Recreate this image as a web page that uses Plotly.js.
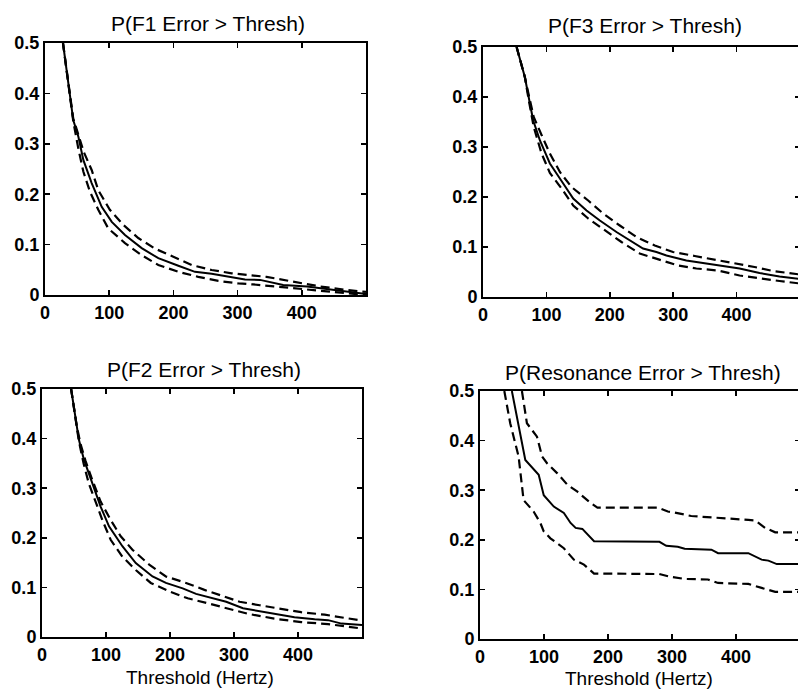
<!DOCTYPE html>
<html>
<head>
<meta charset="utf-8">
<script src="https://cdn.plot.ly/plotly-3.0.1.min.js"></script>
<style>
html,body{margin:0;padding:0;overflow:hidden;background:#fff;width:798px;height:689px;}
#chart{width:810px;height:689px;}
</style>
</head>
<body>
<div id="chart"></div>
<script>
// ---- Data (Threshold in Hertz, probability) ----
const xTickVals = [0, 100, 200, 300, 400];
const xTickText = ["0", "100", "200", "300", "400"];
const yTickVals = [0, 0.1, 0.2, 0.3, 0.4, 0.5];
const yTickText = ["0", "0.1", "0.2", "0.3", "0.4", "0.5"];
const panelTitles = ["P(F1 Error > Thresh)", "P(F3 Error > Thresh)", "P(F2 Error > Thresh)", "P(Resonance Error > Thresh)"];
const xAxisTitle = "Threshold (Hertz)";

// F1
const f1X  = [28, 36, 44, 52, 59.7, 72.7, 88.3, 104, 124.6, 150.6, 176.5, 207.7, 233.6, 259.6, 285.5, 311.5, 335, 371, 408, 449, 475, 500];
const f1Y  = [0.5, 0.42, 0.347, 0.314, 0.268, 0.222, 0.175, 0.145, 0.119, 0.093, 0.073, 0.058, 0.046, 0.042, 0.036, 0.031, 0.030, 0.020, 0.017, 0.010, 0.007, 0.002];
const f1UpX = [28, 36, 44, 52, 60, 72.7, 83, 101, 122, 145.3, 171.3, 199.9, 228.5, 259.6, 290.8, 345, 387, 428, 470, 500];
const f1UpY = [0.5, 0.42, 0.35, 0.318, 0.285, 0.248, 0.208, 0.169, 0.139, 0.113, 0.092, 0.076, 0.0595, 0.0496, 0.043, 0.036, 0.026, 0.017, 0.010, 0.006];
const f1LoX = [28, 36, 44, 52, 59.7, 70, 83, 98.6, 124.6, 150.6, 176.5, 207.7, 238.8, 270, 301, 324, 366, 408, 449, 490, 500];
const f1LoY = [0.5, 0.42, 0.345, 0.29, 0.245, 0.205, 0.169, 0.132, 0.103, 0.079, 0.0595, 0.046, 0.036, 0.028, 0.023, 0.021, 0.016, 0.012, 0.006, 0.001, 0.0];

// F3
const f3X  = [53, 60, 66, 72, 79.2, 89.8, 105.5, 126.5, 142.3, 163.3, 184.3, 210.5, 226.3, 252.4, 273.5, 289.3, 320.7, 362.7, 404.7, 436.2, 467.7, 500];
const f3Y  = [0.5, 0.47, 0.44, 0.40, 0.353, 0.313, 0.267, 0.227, 0.197, 0.173, 0.153, 0.130, 0.117, 0.097, 0.090, 0.083, 0.073, 0.065, 0.057, 0.048, 0.041, 0.036];
const f3UpX = [53, 60, 66, 72, 80, 92, 105.5, 121.3, 139.6, 165.9, 189.5, 215.7, 242, 270.9, 299.7, 333.9, 365.4, 396.9, 428.3, 457.2, 488.7, 500];
const f3UpY = [0.5, 0.47, 0.44, 0.405, 0.36, 0.325, 0.287, 0.25, 0.22, 0.193, 0.167, 0.143, 0.12, 0.103, 0.090, 0.082, 0.075, 0.068, 0.060, 0.052, 0.047, 0.045];
const f3LoX = [53, 60, 66, 72, 80, 92.4, 105.5, 123.9, 142.3, 165.9, 192.1, 218.4, 247.2, 276.1, 307.6, 336.5, 370.6, 404.7, 436.2, 467.7, 500];
const f3LoY = [0.5, 0.47, 0.44, 0.395, 0.34, 0.287, 0.248, 0.217, 0.183, 0.157, 0.133, 0.110, 0.087, 0.075, 0.063, 0.057, 0.053, 0.043, 0.037, 0.032, 0.027];

// F2
const f2X  = [45.5, 50, 54.4, 57.6, 65.4, 78.5, 91.6, 104.7, 125.6, 146.5, 172.7, 193.6, 219.8, 240.7, 266.9, 287.8, 314, 332, 363, 394.5, 426, 447, 468, 500];
const f2Y  = [0.5, 0.46, 0.425, 0.398, 0.358, 0.311, 0.263, 0.223, 0.183, 0.149, 0.122, 0.109, 0.098, 0.087, 0.078, 0.071, 0.058, 0.054, 0.046, 0.040, 0.036, 0.034, 0.027, 0.024];
const f2UpX = [45.5, 50, 54.4, 60, 68, 78.5, 91.6, 107.3, 123, 141.3, 167.5, 193.6, 225, 253.8, 282.6, 308.8, 340, 370, 405, 441.6, 478, 500];
const f2UpY = [0.5, 0.46, 0.425, 0.39, 0.355, 0.317, 0.273, 0.236, 0.203, 0.176, 0.146, 0.122, 0.109, 0.095, 0.083, 0.071, 0.064, 0.057, 0.050, 0.045, 0.037, 0.033];
const f2LoX = [45.5, 50, 54.4, 57.6, 65, 73, 83.7, 94.2, 107.3, 125.6, 146.5, 170, 198.9, 227.6, 259, 290.4, 321, 363, 405, 447, 500];
const f2LoY = [0.5, 0.46, 0.425, 0.395, 0.35, 0.31, 0.273, 0.236, 0.196, 0.162, 0.135, 0.109, 0.092, 0.078, 0.068, 0.058, 0.047, 0.037, 0.030, 0.026, 0.017];

// Resonance
const resX  = [49.8, 70.8, 91.7, 99.6, 115.3, 131, 141.5, 149.4, 159.9, 178.2, 280.4, 291, 309, 319.8, 361.6, 372, 419.3, 440, 450.6, 463.7, 500];
const resY  = [0.5, 0.361, 0.331, 0.29, 0.267, 0.254, 0.234, 0.224, 0.222, 0.197, 0.196, 0.188, 0.186, 0.182, 0.180, 0.173, 0.173, 0.160, 0.158, 0.151, 0.151];
const resUpX = [65.5, 73.3, 89, 97, 105, 120.8, 136.5, 152.2, 173, 183.5, 277.8, 293.5, 304, 319.8, 330, 419.3, 429.8, 445.5, 461.3, 500];
const resUpY = [0.5, 0.435, 0.408, 0.368, 0.354, 0.334, 0.311, 0.297, 0.274, 0.265, 0.265, 0.257, 0.255, 0.250, 0.248, 0.240, 0.239, 0.224, 0.215, 0.215];
const resLoX = [38, 47.2, 60.3, 68.1, 83.8, 94.3, 99.6, 110, 131, 146.7, 162.4, 178.2, 280, 295, 320, 356, 372, 419.3, 440, 461.3, 500];
const resLoY = [0.5, 0.435, 0.368, 0.28, 0.257, 0.234, 0.217, 0.203, 0.183, 0.160, 0.150, 0.132, 0.131, 0.126, 0.121, 0.120, 0.113, 0.111, 0.103, 0.095, 0.095];

// ---- Build ----
const W = 810, H = 689;
const FONT = "Liberation Sans, Arial, Helvetica, sans-serif";

function lineTrace(xa, ya, xs, ys, dashed) {
  return {
    type: "scatter", mode: "lines", x: xs, y: ys, xaxis: xa, yaxis: ya,
    line: {color: "#000", width: dashed ? 2.2 : 2, dash: dashed ? "9px,5px" : "solid"},
    hoverinfo: "skip", showlegend: false
  };
}

const panels = [
  {xa: "x",  ya: "y",  s: [f1X, f1Y], u: [f1UpX, f1UpY], l: [f1LoX, f1LoY]},
  {xa: "x2", ya: "y2", s: [f3X, f3Y], u: [f3UpX, f3UpY], l: [f3LoX, f3LoY]},
  {xa: "x3", ya: "y3", s: [f2X, f2Y], u: [f2UpX, f2UpY], l: [f2LoX, f2LoY]},
  {xa: "x4", ya: "y4", s: [resX, resY], u: [resUpX, resUpY], l: [resLoX, resLoY]}
];

const data = [];
panels.forEach(p => {
  data.push(lineTrace(p.xa, p.ya, p.u[0], p.u[1], true));
  data.push(lineTrace(p.xa, p.ya, p.l[0], p.l[1], true));
  data.push(lineTrace(p.xa, p.ya, p.s[0], p.s[1], false));
});

// plot-area boxes in pixels: [left, right, top, bottom]
const boxes = [[45, 366, 43, 295], [483, 800, 47, 297], [42, 362, 389, 637], [480, 800, 391, 639]];

const tickFont = {family: FONT, size: 18, color: "#000", weight: "bold"};
function xAxisDef(b, anchor) {
  return {
    domain: [b[0] / W, b[1] / W], anchor: anchor, range: [0, 500],
    tickvals: xTickVals, ticktext: xTickText,
    ticks: "inside", ticklen: 5, tickwidth: 1.5, tickcolor: "#000",
    showline: true, linewidth: 2, linecolor: "#000", mirror: "ticks",
    showgrid: false, zeroline: false, fixedrange: true,
    tickfont: tickFont
  };
}
function yAxisDef(b, anchor) {
  return {
    domain: [1 - b[3] / H, 1 - b[2] / H], anchor: anchor, range: [0, 0.5],
    tickvals: yTickVals, ticktext: yTickText,
    ticks: "inside", ticklen: 5, tickwidth: 1.5, tickcolor: "#000",
    showline: true, linewidth: 2, linecolor: "#000", mirror: "ticks",
    showgrid: false, zeroline: false, fixedrange: true,
    tickfont: tickFont
  };
}

const titlePos = [[208, 24], [645, 26], [204, 369], [643, 372]];
const annotations = panelTitles.map((t, i) => ({
  text: t, xref: "paper", yref: "paper",
  x: titlePos[i][0] / W, y: 1 - titlePos[i][1] / H,
  xanchor: "center", yanchor: "middle", showarrow: false,
  font: {family: FONT, size: 21, color: "#000"}
}));
[[200, 677], [639, 678]].forEach(p => annotations.push({
  text: xAxisTitle, xref: "paper", yref: "paper",
  x: p[0] / W, y: 1 - p[1] / H, xanchor: "center", yanchor: "middle", showarrow: false,
  font: {family: FONT, size: 19, color: "#000"}
}));

const layout = {
  width: W, height: H,
  margin: {l: 0, r: 0, t: 0, b: 0, pad: 0},
  paper_bgcolor: "#fff", plot_bgcolor: "#fff",
  showlegend: false,
  xaxis: xAxisDef(boxes[0], "y"),   yaxis: yAxisDef(boxes[0], "x"),
  xaxis2: xAxisDef(boxes[1], "y2"), yaxis2: yAxisDef(boxes[1], "x2"),
  xaxis3: xAxisDef(boxes[2], "y3"), yaxis3: yAxisDef(boxes[2], "x3"),
  xaxis4: xAxisDef(boxes[3], "y4"), yaxis4: yAxisDef(boxes[3], "x4"),
  annotations: annotations
};

Plotly.newPlot("chart", data, layout, {staticPlot: true, displayModeBar: false});
</script>
</body>
</html>
